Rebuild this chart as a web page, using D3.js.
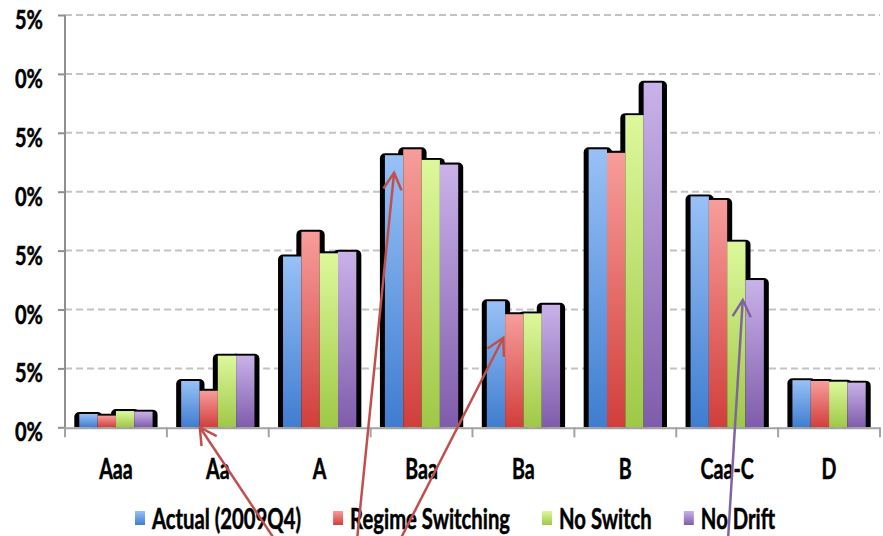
<!DOCTYPE html>
<html><head><meta charset="utf-8">
<script src="https://cdn.jsdelivr.net/npm/d3@7"></script>
<style>body{margin:0;background:#fff;} svg{display:block}</style>
</head><body><svg id="c" width="883" height="536"></svg>
<script>
// ---------- data ----------
const categories = ["Aaa","Aa","A","Baa","Ba","B","Caa-C","D"];
const seriesNames = ["Actual (2009Q4)","Regime Switching","No Switch","No Drift"];
const actual   = [1.13, 3.93, 14.5, 23.1, 10.7, 23.6, 19.6, 4.0];
const regime   = [0.99, 3.1, 16.6, 23.6, 9.6, 23.3, 19.3, 3.93];
const noSwitch = [1.38, 6.08, 14.77, 22.7, 9.67, 26.5, 15.76, 3.87];
const noDrift  = [1.33, 6.08, 14.9, 22.3, 10.4, 29.25, 12.5, 3.79];
const yTicks = [0, 5, 10, 15, 20, 25, 30, 35];
const yTickLabels = ["0%","5%","0%","5%","0%","5%","0%","5%"];
// annotation arrows: tip on a bar (category, series, value), tail at bottom edge
const arrowCats   = ["Aa","Baa","Ba","Caa-C"];
const arrowSeries = [1, 0, 0, 2];
const arrowVals   = [0, 21.6, 7.6, 10.8];

// ---------- styles ----------
const seriesVals = [actual, regime, noSwitch, noDrift];
const topCols = ["#98c1f6","#f79d9b","#ddf89c","#c9b2e9"];
const botCols = ["#3f7dd0","#d13e3b","#9fc846","#7f5cab"];
const arrowCols = ["#c0504d","#c0504d","#c0504d","#8064a2"];
const arrowTipFrac = [0.02, 0.5, 0.9, 0.85];
const arrowTailX = [275, 357, 400, 728];
const FONT = "Lato, Calibri, 'Liberation Sans', sans-serif";

const svg = d3.select("#c");
const L = 65, R = 880, T = 15, B = 427.3;

const y = d3.scaleLinear().domain([0, 35]).range([B, T]);
const x0 = d3.scaleBand().domain(categories).range([L, R]).padding(0);
const x1 = d3.scaleBand().domain(d3.range(4)).range([0, x0.bandwidth()]).paddingInner(0).paddingOuter(0.78);

const defs = svg.append("defs");
topCols.forEach((c, i) => {
  const g = defs.append("linearGradient").attr("id", "g" + i)
    .attr("x1", 0).attr("y1", 0).attr("x2", 0).attr("y2", 1);
  g.append("stop").attr("offset", "0%").attr("stop-color", c);
  g.append("stop").attr("offset", "100%").attr("stop-color", botCols[i]);
  const h = defs.append("linearGradient").attr("id", "h" + i)
    .attr("x1", 0).attr("y1", 0).attr("x2", 0).attr("y2", 1);
  h.append("stop").attr("offset", "0%").attr("stop-color", c);
  h.append("stop").attr("offset", "100%").attr("stop-color", botCols[i]);
});
defs.append("clipPath").attr("id", "plotclip")
  .append("rect").attr("x", 0).attr("y", 0).attr("width", 883).attr("height", B);

// gridlines
svg.append("g").selectAll("line").data(yTicks.filter(d => d > 0)).join("line")
  .attr("x1", L).attr("x2", R).attr("y1", d => y(d)).attr("y2", d => y(d))
  .attr("stroke", "#c3c3c3").attr("stroke-width", 2).attr("stroke-dasharray", "7,4");

// bars data
const bars = [];
categories.forEach((c, ci) => seriesVals.forEach((arr, si) => bars.push({c, si, v: arr[ci]})));

// shadows
svg.append("g").attr("clip-path", "url(#plotclip)").selectAll("rect").data(bars).join("rect")
  .attr("x", d => x0(d.c) + x1(d.si) - 5)
  .attr("y", d => y(d.v) - 2)
  .attr("width", x1.bandwidth() + 10)
  .attr("height", d => B - y(d.v) + 12)
  .attr("rx", 5).attr("fill", "#000");

// bars
svg.append("g").selectAll("rect").data(bars).join("rect")
  .attr("x", d => x0(d.c) + x1(d.si))
  .attr("y", d => y(d.v))
  .attr("width", x1.bandwidth())
  .attr("height", d => B - y(d.v))
  .attr("fill", d => `url(#g${d.si})`);

// y axis
const yAxis = svg.append("g").attr("transform", `translate(${L},0)`)
  .call(d3.axisLeft(y).tickValues(yTicks).tickSize(7).tickSizeOuter(0).tickFormat((d, i) => yTickLabels[i]));
yAxis.select(".domain").attr("stroke", "#8f8f8f").attr("stroke-width", 2).attr("d", `M0,${T}V${B + 3}`);
yAxis.selectAll(".tick line").attr("stroke", "#8f8f8f").attr("stroke-width", 2);
yAxis.selectAll(".tick text").attr("x", null).attr("dy", null)
  .style("font-family", FONT).style("font-weight", 700).style("font-size", "26px")
  .attr("fill", "#000").attr("stroke", "#000").attr("stroke-width", 0.5);

// x axis
const xg = svg.append("g");
xg.append("line").attr("x1", L).attr("x2", R).attr("y1", B + 1).attr("y2", B + 1)
  .attr("stroke", "#a3a3a3").attr("stroke-width", 2);
xg.selectAll("line.t").data(categories.map(c => x0(c)).concat([R])).join("line").attr("class", "t")
  .attr("x1", d => d).attr("x2", d => d).attr("y1", B).attr("y2", B + 10)
  .attr("stroke", "#a3a3a3").attr("stroke-width", 2);
const catText = xg.selectAll("text").data(categories).join("text")
  .text(d => d).attr("text-anchor", "middle")
  .style("font-family", FONT).style("font-weight", 700).style("font-size", "28px")
  .attr("fill", "#000").attr("stroke", "#000").attr("stroke-width", 0.5);

// fit horizontal compression
function natural(sel) { return sel.nodes().map(n => n.getComputedTextLength()); }
// y labels
const yT = yAxis.selectAll(".tick text");
const yNat = natural(yT);
const ySx = 28 / yNat[1];
yT.each(function(d) {
  d3.select(this).attr("text-anchor", "end")
    .attr("transform", `translate(-22,${13.5}) scale(${ySx},1)`);
});
// category labels
const cNat = natural(catText);
const cSx = (32 + 54) / (cNat[3] + cNat[6]);
catText.attr("transform", d => `translate(${x0(d) + x0.bandwidth() / 2},478.5) scale(${cSx},1)`);

// legend
const lg = svg.append("g");
const lt = lg.selectAll("text").data(seriesNames).join("text").text(d => d)
  .style("font-family", FONT).style("font-weight", 700).style("font-size", "28px")
  .attr("fill", "#000").attr("stroke", "#000").attr("stroke-width", 0.5);
const lNat = natural(lt);
const lSx = 476 / d3.sum(lNat);
let cx = 135;
const pos = [];
lNat.forEach((w, i) => { pos.push(cx); cx += 17 + w * lSx + 32; });
lt.attr("transform", (d, i) => `translate(${pos[i] + 17},528.5) scale(${lSx},1)`);
lg.selectAll("rect").data(seriesNames).join("rect")
  .attr("x", (d, i) => pos[i]).attr("y", 511).attr("width", 10).attr("height", 14)
  .attr("fill", (d, i) => `url(#h${i})`);

// arrows
const ag = svg.append("g");
arrowCats.forEach((c, i) => {
  const tx = x0(c) + x1(arrowSeries[i]) + x1.bandwidth() * arrowTipFrac[i];
  const ty = y(arrowVals[i]);
  const sx = arrowTailX[i], sy = 540;
  const ang = Math.atan2(sy - ty, sx - tx);
  const len = 19, spread = 0.5;
  const col = arrowCols[i];
  ag.append("line").attr("x1", sx).attr("y1", sy).attr("x2", tx).attr("y2", ty)
    .attr("stroke", col).attr("stroke-width", 2.5);
  ag.append("path")
    .attr("d", `M${tx + len * Math.cos(ang - spread)},${ty + len * Math.sin(ang - spread)}L${tx},${ty}L${tx + len * Math.cos(ang + spread)},${ty + len * Math.sin(ang + spread)}`)
    .attr("fill", "none").attr("stroke", col).attr("stroke-width", 2.5).attr("stroke-linejoin", "miter");
});
</script></body></html>
